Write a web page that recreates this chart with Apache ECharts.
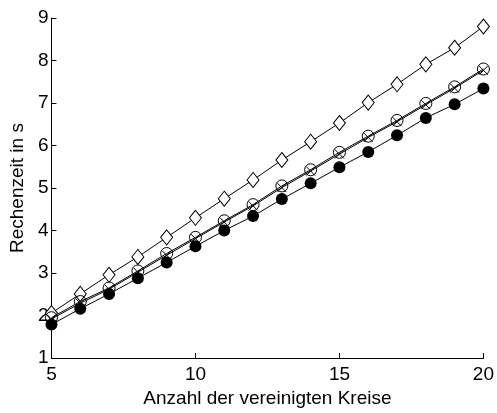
<!DOCTYPE html>
<html>
<head>
<meta charset="utf-8">
<script src="https://cdn.jsdelivr.net/npm/echarts@6/dist/echarts.min.js"></script>
<style>
html,body{margin:0;padding:0;background:#fff;}
#main{width:497px;height:413px;}
</style>
</head>
<body>
<div id="main"></div>
<script>
var xValues = [5, 6, 7, 8, 9, 10, 11, 12, 13, 14, 15, 16, 17, 18, 19, 20];
var diamondSeries = [2.06, 2.51, 2.96, 3.38, 3.84, 4.30, 4.75, 5.19, 5.66, 6.09, 6.53, 7.01, 7.44, 7.91, 8.30, 8.80];
var circleSeries = [1.95, 2.33, 2.65, 3.05, 3.46, 3.84, 4.23, 4.61, 5.05, 5.43, 5.84, 6.22, 6.59, 6.99, 7.38, 7.80];
var crossSeries = [1.92, 2.29, 2.62, 3.02, 3.42, 3.81, 4.20, 4.58, 5.01, 5.40, 5.80, 6.19, 6.56, 6.96, 7.35, 7.77];
var filledSeries = [1.79, 2.16, 2.51, 2.88, 3.25, 3.63, 4.00, 4.34, 4.74, 5.11, 5.49, 5.85, 6.24, 6.65, 6.97, 7.34];
var xTicks = [5, 10, 15, 20];
var yTicks = [1, 2, 3, 4, 5, 6, 7, 8, 9];
var xName = 'Anzahl der vereinigten Kreise';
var yName = 'Rechenzeit in s';

function pairs(vals) {
  return xValues.map(function (x, i) { return [x, vals[i]]; });
}

var font = '"Liberation Sans", Arial, Helvetica, sans-serif';
var chart = echarts.init(document.getElementById('main'), null, {renderer: 'canvas'});

function lineSeries(vals, symbol, size, itemStyle, z) {
  return {
    type: 'line',
    data: pairs(vals),
    symbol: symbol,
    symbolSize: size,
    showAllSymbol: true,
    lineStyle: {color: '#000', width: 1},
    itemStyle: itemStyle,
    emphasis: {disabled: true},
    animation: false,
    z: z
  };
}

chart.setOption({
  backgroundColor: '#fff',
  animation: false,
  grid: {left: 46, right: 11, top: 18, bottom: 48, containLabel: false},
  xAxis: {
    type: 'value',
    min: 5, max: 20, interval: 5,
    name: xName,
    nameLocation: 'middle',
    nameGap: 25,
    nameTextStyle: {color: '#000', fontSize: 19, fontFamily: font},
    axisLine: {lineStyle: {color: '#000', width: 1}},
    axisTick: {inside: true, length: 5, lineStyle: {color: '#000'}},
    axisLabel: {color: '#000', fontSize: 19, fontFamily: font, margin: 7,
      formatter: function (v) { return xTicks.indexOf(v) >= 0 ? String(v) : ''; }},
    splitLine: {show: false}
  },
  yAxis: {
    type: 'value',
    min: 1, max: 9, interval: 1,
    name: yName,
    nameLocation: 'middle',
    nameGap: 19,
    nameTextStyle: {color: '#000', fontSize: 19, fontFamily: font},
    axisLine: {show: true, lineStyle: {color: '#000', width: 1}},
    axisTick: {show: true, inside: true, length: 5, lineStyle: {color: '#000'}},
    axisLabel: {color: '#000', fontSize: 19, fontFamily: font, margin: 3,
      formatter: function (v) { return yTicks.indexOf(v) >= 0 ? String(v) : ''; }},
    splitLine: {show: false}
  },
  series: [
    lineSeries(diamondSeries, 'diamond', [12, 15], {color: '#fff', borderColor: '#000', borderWidth: 1}, 2),
    lineSeries(circleSeries, 'circle', 12, {color: 'rgba(255,255,255,0)', borderColor: '#000', borderWidth: 1}, 3),
    lineSeries(crossSeries, 'path://M0,0L10,10M10,0L0,10', [9, 9], {color: 'rgba(255,255,255,0)', borderColor: '#000', borderWidth: 1}, 4),
    lineSeries(filledSeries, 'circle', 12, {color: '#000', borderColor: '#000', borderWidth: 0}, 5)
  ]
});
</script>
</body>
</html>
